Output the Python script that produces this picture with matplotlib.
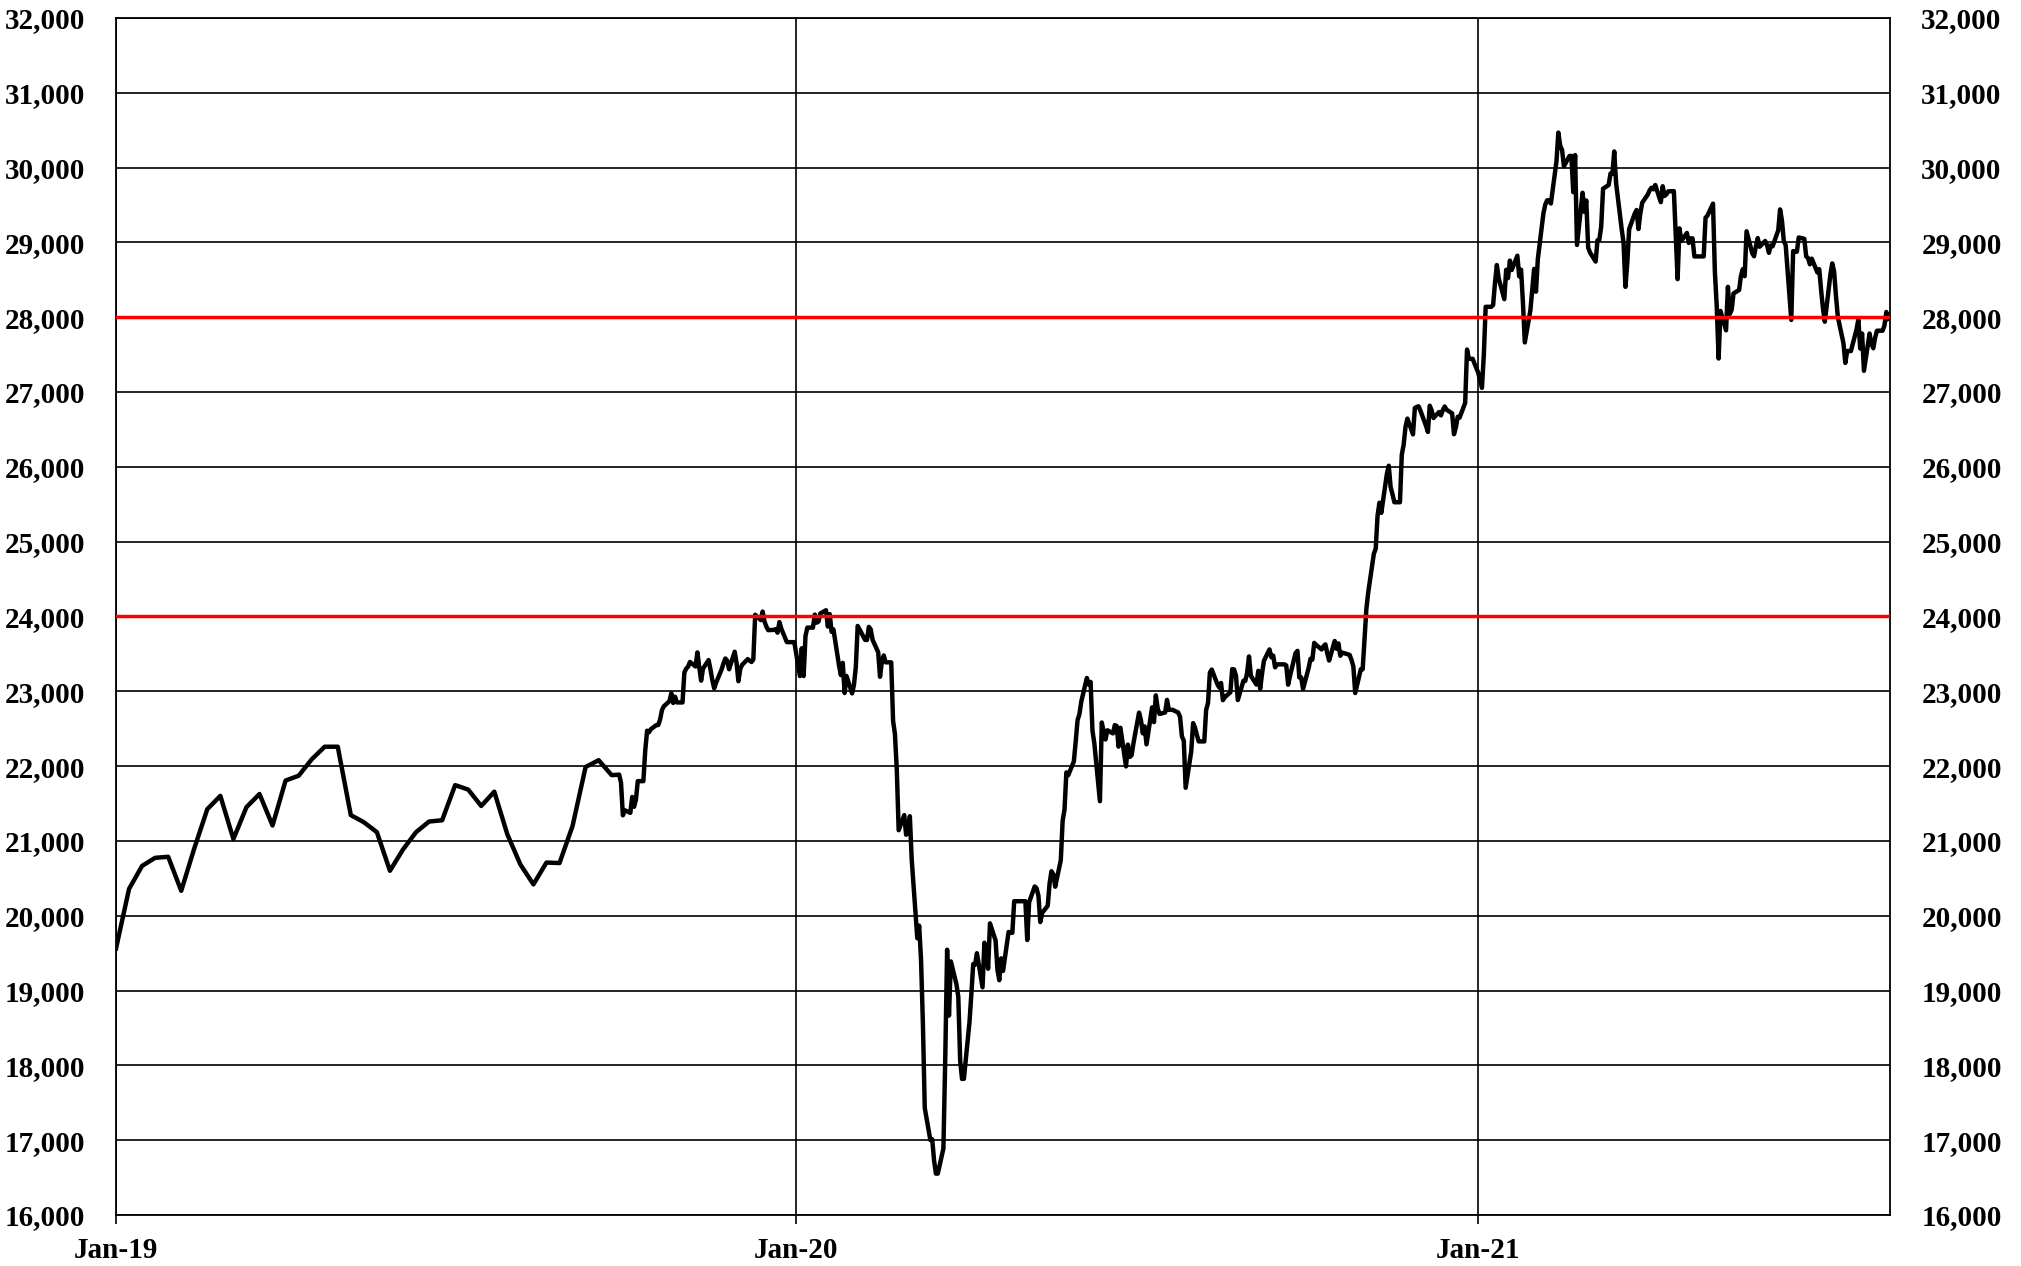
import matplotlib
matplotlib.use('Agg')
import matplotlib.pyplot as plt
import pandas as pd

# weekly closes (Fridays) from 4 Jan 2019 to 27 Sep 2019
weekly_2019 = [19562, 20359, 20666, 20774, 20788, 20333, 20900, 21425, 21602, 21025,
               21451, 21627, 21206, 21807, 21871, 22090, 22259, 22259, 21345, 21250,
               21117, 20601, 20885, 21117, 21259, 21276, 21746, 21686, 21467, 21658,
               21088, 20685, 20419, 20711, 20704, 21200, 21988, 22079, 21879]

# daily closes, one value per weekday (holidays carry the last close)
oct_2019 = [21886, 21779, 21342, 21410, 21375, 21588, 21456, 21552, 21799, 21799, 22208, 22473,
            22452, 22493, 22549, 22549, 22625, 22751, 22800, 22868, 22974, 22844, 22927]
nov_2019 = [22851, 22851, 23251, 23303, 23330, 23392, 23332, 23520, 23320, 23142, 23303,
            23417, 23293, 23149, 23039, 23113, 23293, 23374, 23438, 23409, 23294]
dec_2019 = [23529, 23380, 23135, 23300, 23354, 23430, 23410, 23392, 23425, 24023, 23952,
            24066, 23934, 23865, 23817, 23821, 23831, 23783, 23925, 23838, 23657, 23657]
jan_2020 = [23657, 23657, 23657, 23204, 23575, 23204, 23740, 23851, 23851, 24025, 23917, 23933,
            24041, 24083, 23865, 24031, 23795, 23827, 23344, 23216, 23380, 22977, 23205]
feb_2020 = [22972, 23085, 23320, 23874, 23828, 23686, 23686, 23861, 23828, 23688,
            23523, 23194, 23401, 23479, 23387, 23387, 22606, 22427, 21949, 21143]
mar_2020 = [21345, 21083, 21100, 21330, 20750, 19699, 19867, 19416, 18560, 17431, 17002,
            17012, 16727, 16553, 16553, 16888, 18092, 19546, 18665, 19389, 19085, 18917]
apr_2020 = [18065, 17819, 17820, 18577, 18951, 19354, 19346, 19499, 19043, 19639, 19551,
            19291, 19898, 19670, 19281, 19138, 19430, 19262, 19784, 19772, 19772, 20194]
may_2020 = [20194, 20194, 20194, 20194, 19675, 20179, 20391, 20367, 20267, 19915, 20038,
            20134, 20434, 20595, 20553, 20388, 20742, 21271, 21420, 21916, 21878]
jun_2020 = [22062, 22325, 22614, 22695, 22864, 23178, 23091, 23125, 22473, 22305, 21531,
            22583, 22456, 22356, 22479, 22437, 22549, 22535, 22260, 22512, 21996, 22288]
jul_2020 = [22122, 22146, 22307, 22715, 22615, 22439, 22530, 22291, 22785, 22588, 22946, 22771,
            22697, 22717, 22885, 22752, 22752, 22752, 22716, 22658, 22397, 22340, 21710]
aug_2020 = [22196, 22574, 22515, 22419, 22330, 22330, 22751, 22844, 23250, 23290, 23097,
            23051, 23111, 22881, 22921, 22986, 23297, 23291, 23209, 22883, 23140]
sep_2020 = [23139, 23248, 23466, 23206, 23090, 23274, 23033, 23236, 23407, 23560, 23455,
            23476, 23320, 23360, 23360, 23360, 23346, 23088, 23205, 23512, 23540, 23185]
oct_2020 = [23185, 23030, 23312, 23434, 23423, 23647, 23620, 23559, 23602, 23627, 23508,
            23411, 23672, 23568, 23640, 23475, 23517, 23495, 23486, 23419, 23332, 22977]
nov_2020 = [23295, 23295, 23695, 24105, 24325, 24839, 24905, 25350, 25521, 25385, 25907,
            26015, 25729, 25634, 25527, 25527, 26165, 26297, 26537, 26645, 26434]
dec_2020 = [26787, 26801, 26809, 26751, 26547, 26467, 26817, 26756, 26653, 26733, 26688, 26758,
            26807, 26764, 26715, 26436, 26525, 26669, 26657, 26855, 27568, 27444, 27444]
jan_2021 = [27444, 27258, 27159, 27056, 27491, 28139, 28139, 28164, 28457, 28698, 28519,
            28242, 28634, 28523, 28757, 28631, 28822, 28547, 28635, 28197, 27663]
feb_2021 = [28092, 28362, 28646, 28341, 28779, 29389, 29506, 29563, 29563, 29520,
            30084, 30468, 30292, 30236, 30018, 30156, 30156, 29672, 30168, 28966]
mar_2021 = [29664, 29408, 29560, 28930, 28865, 28744, 29028, 29036, 29212, 29718, 29767, 29922,
            29915, 30216, 29792, 29175, 28996, 28406, 28729, 29177, 29385, 29433, 29179]
apr_2021 = [29389, 29530, 29640, 29697, 29731, 29709, 29768, 29538, 29751, 29621, 29643,
            29683, 29685, 29101, 28509, 29188, 29021, 29126, 28992, 29054, 29054, 28813]
may_2021 = [28813, 28813, 28813, 29331, 29358, 29518, 28609, 28148, 27448, 28084, 27825,
            28406, 28044, 28098, 28318, 28364, 28553, 28643, 28549, 29149, 28860]
jun_2021 = [28815, 28946, 29058, 28942, 29019, 28964, 28861, 28959, 28949, 29161, 29441,
            29291, 29018, 28964, 27964, 28885, 28874, 28876, 29066, 29048, 28813, 28792]
jul_2021 = [28707, 28783, 28599, 28643, 28367, 28118, 27940, 28570, 28719, 28609, 28279,
            28003, 27652, 27389, 27548, 27548, 27548, 27834, 27970, 27582, 27782, 27284]
aug_2021 = [27782, 27642, 27585, 27728, 27820, 27820, 27889, 28070, 27977]

daily_months = [(2019, 10, oct_2019), (2019, 11, nov_2019), (2019, 12, dec_2019),
                (2020, 1, jan_2020), (2020, 2, feb_2020), (2020, 3, mar_2020),
                (2020, 4, apr_2020), (2020, 5, may_2020), (2020, 6, jun_2020),
                (2020, 7, jul_2020), (2020, 8, aug_2020), (2020, 9, sep_2020),
                (2020, 10, oct_2020), (2020, 11, nov_2020), (2020, 12, dec_2020),
                (2021, 1, jan_2021), (2021, 2, feb_2021), (2021, 3, mar_2021),
                (2021, 4, apr_2021), (2021, 5, may_2021), (2021, 6, jun_2021),
                (2021, 7, jul_2021), (2021, 8, aug_2021)]

levels = [24000, 28000]
tick_dates = ['2019-01-04', '2020-01-04', '2021-01-04']
tick_labels = ['Jan-19', 'Jan-20', 'Jan-21']

dates = list(pd.date_range('2019-01-04', periods=len(weekly_2019), freq='W-FRI'))
values = list(weekly_2019)
for year, month, vals in daily_months:
    start = pd.Timestamp(year, month, 1)
    days = pd.bdate_range(start, start + pd.offsets.MonthEnd(0))[:len(vals)]
    dates += list(days)
    values += vals

plt.rcParams['font.family'] = 'Liberation Serif'
plt.rcParams['font.weight'] = 'bold'

fig = plt.figure(figsize=(20.21, 12.66), dpi=100)
ax = fig.add_axes([0.0574, 0.0403, 0.8778, 0.9455])

ax.plot(dates, values, color='black', lw=3.2, zorder=3, solid_joinstyle='round')
for lv in levels:
    ax.axhline(lv, color='#ff0000', lw=2.5, zorder=4)

ax.set_ylim(16000, 32000)
ax.set_xlim(pd.Timestamp('2019-01-04'), pd.Timestamp('2021-08-13'))
ax.set_yticks(range(16000, 32001, 1000))
ax.yaxis.set_major_formatter(matplotlib.ticker.FuncFormatter(lambda v, p: f'{int(v):,}'))
ax.set_xticks([pd.Timestamp(d) for d in tick_dates])
ax.set_xticklabels(tick_labels)

ax.grid(True, color='black', lw=1.2, zorder=1)
ax.set_axisbelow(True)
for s in ax.spines.values():
    s.set_linewidth(1.3)
    s.set_color('black')

ax.tick_params(axis='y', left=False, right=False, labelleft=True, labelright=True,
               pad=19, labelsize=21)
ax.tick_params(axis='x', direction='out', length=6.5, width=1.2, pad=9, labelsize=21)

fig.savefig('out.png', dpi=100)
